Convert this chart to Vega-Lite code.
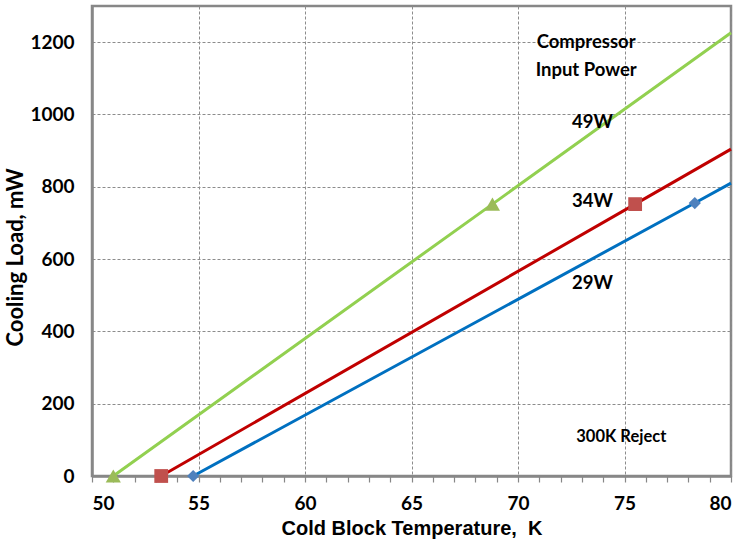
{
  "$schema": "https://vega.github.io/schema/vega-lite/v6.json",
  "autosize": "none",
  "width": 639,
  "height": 470,
  "padding": {"left": 92, "top": 6, "right": 10, "bottom": 66},
  "background": "white",
  "config": {
    "view": {"stroke": "#878787", "strokeWidth": 2.5},
    "font": "Lato",
    "axis": {
      "labelFont": "Lato", "labelFontWeight": "bold", "labelFontSize": 19, "labelColor": "#000",
      "titleFont": "Lato", "titleFontWeight": "bold", "titleFontSize": 20, "titleColor": "#000",
      "gridColor": "#8c8c8c", "gridDash": [3, 2], "gridWidth": 1,
      "domainColor": "#878787", "domainWidth": 2.5, "tickColor": "#878787"
    }
  },
  "datasets": {
    "lines": [
      {"s": "49W", "x": 51.0, "y": 0, "m": true},
      {"s": "49W", "x": 68.8, "y": 752, "m": true},
      {"s": "49W", "x": 80, "y": 1226, "m": false},
      {"s": "34W", "x": 53.25, "y": 0, "m": true},
      {"s": "34W", "x": 75.5, "y": 752, "m": true},
      {"s": "34W", "x": 80, "y": 904, "m": false},
      {"s": "29W", "x": 54.75, "y": 0, "m": true},
      {"s": "29W", "x": 78.3, "y": 755, "m": true},
      {"s": "29W", "x": 80, "y": 810, "m": false}
    ],
    "labels": [
      {"t": "Compressor", "x": 73.2, "y": 1201},
      {"t": "Input Power", "x": 73.2, "y": 1124},
      {"t": "49W", "x": 73.5, "y": 980},
      {"t": "34W", "x": 73.5, "y": 760},
      {"t": "29W", "x": 73.5, "y": 534}
    ],
    "note": [
      {"t": "300K Reject", "x": 74.85, "y": 108}
    ]
  },
  "layer": [
    {
      "data": {"name": "lines"},
      "mark": {"type": "line", "strokeWidth": 3},
      "encoding": {
        "x": {"field": "x", "type": "quantitative", "scale": {"domain": [50, 80], "nice": false},
              "axis": {"values": [50, 51, 52, 53, 54, 55, 56, 57, 58, 59, 60, 61, 62, 63, 64, 65, 66, 67, 68, 69, 70, 71, 72, 73, 74, 75, 76, 77, 78, 79, 80],
                       "tickCount": 40,
                       "labelExpr": "datum.value % 5 === 0 ? datum.label : ''",
                       "labelOverlap": false,
                       "format": "d",
                       "title": "Cold Block Temperature,\u00a0 K", "titleFont": "Liberation Sans", "titleFontSize": 20, "titlePadding": 5, "labelPadding": 12,
                       "ticks": true, "tickSize": 6, "tickWidth": 1.2, "grid": true,
                       "gridOpacity": {"condition": {"test": "datum.value % 5 === 0", "value": 1}, "value": 0}}},
        "y": {"field": "y", "type": "quantitative", "scale": {"domain": [0, 1300], "nice": false},
              "axis": {"values": [0, 200, 400, 600, 800, 1000, 1200], "tickCount": 10, "format": "d", "title": "Cooling Load, mW", "titleFontSize": 22,
                       "titleX": -77, "titleY": 251, "titleAlign": "center", "titleBaseline": "middle", "titleAngle": -90,
                       "labelPadding": 18, "ticks": false, "grid": true}},
        "color": {"field": "s", "type": "nominal", "scale": {"domain": ["49W", "34W", "29W"], "range": ["#92d050", "#c00000", "#0070c0"]}, "legend": null},
        "order": {"field": "x", "type": "quantitative"}
      }
    },
    {
      "data": {"name": "lines"},
      "transform": [{"filter": "datum.m"}],
      "mark": {"type": "point", "filled": true, "opacity": 1, "clip": false},
      "encoding": {
        "x": {"field": "x", "type": "quantitative"},
        "y": {"field": "y", "type": "quantitative"},
        "shape": {"field": "s", "type": "nominal", "scale": {"domain": ["49W", "34W", "29W"], "range": ["triangle-up", "square", "diamond"]}, "legend": null},
        "fill": {"field": "s", "type": "nominal", "scale": {"domain": ["49W", "34W", "29W"], "range": ["#9bbb59", "#c0504d", "#4f81bd"]}, "legend": null},
        "size": {"field": "s", "type": "nominal", "scale": {"domain": ["49W", "34W", "29W"], "range": [230, 150, 150]}, "legend": null}
      }
    },
    {
      "data": {"name": "labels"},
      "mark": {"type": "text", "font": "Lato", "fontWeight": "bold", "fontSize": 18.5, "color": "#000", "align": "center", "baseline": "middle"},
      "encoding": {
        "x": {"field": "x", "type": "quantitative"},
        "y": {"field": "y", "type": "quantitative"},
        "text": {"field": "t"}
      }
    },
    {
      "data": {"name": "note"},
      "mark": {"type": "text", "font": "Lato", "fontWeight": "bold", "fontSize": 16.5, "color": "#000", "align": "center", "baseline": "middle"},
      "encoding": {
        "x": {"field": "x", "type": "quantitative"},
        "y": {"field": "y", "type": "quantitative"},
        "text": {"field": "t"}
      }
    }
  ]
}
